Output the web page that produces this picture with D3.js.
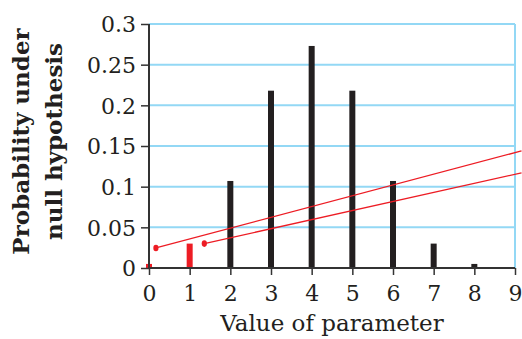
<!DOCTYPE html>
<html><head><meta charset="utf-8">
<script src="https://cdn.jsdelivr.net/npm/d3@7"></script>
<style>body{margin:0;background:#fff}svg{display:block}</style>
</head><body>
<svg id="c" width="522" height="339"></svg>
<script>
const categories = [0,1,2,3,4,5,6,7,8];
const probabilities = [0.005,0.03,0.107,0.218,0.273,0.218,0.107,0.03,0.005];
const barColors = ["red","red","black","black","black","black","black","black","black"];
const yTicks = [0,0.05,0.1,0.15,0.2,0.25,0.3];
const yTickLabels = ["0","0.05","0.1","0.15","0.2","0.25","0.3"];
const xTicks = [0,1,2,3,4,5,6,7,8,9];
const line1 = [[0.17,0.0246],[9.16,0.144]];
const line2 = [[1.36,0.030],[9.16,0.117]];

const svg = d3.select("#c");
const x = d3.scaleLinear().domain([0,9]).range([149,515]);
const y = d3.scaleLinear().domain([0,0.3]).range([268,24]);
const RED="#ed1c24", BLACK="#231f20", BLUE="#93d8f5", AXIS="#333";
const font="'DejaVu Serif', serif";

// gridlines
svg.append("g").selectAll("line").data(yTicks.filter(d=>d>0)).join("line")
  .attr("x1",x(0)).attr("x2",x(9)).attr("y1",d=>y(d)).attr("y2",d=>y(d))
  .attr("stroke",BLUE).attr("stroke-width",2);
svg.append("line").attr("x1",x(9)).attr("x2",x(9)).attr("y1",y(0.3)).attr("y2",y(0))
  .attr("stroke",BLUE).attr("stroke-width",2);

// bars
const bw=6;
svg.append("g").selectAll("rect").data(categories).join("rect")
  .attr("x",d=>x(d)-bw/2).attr("width",bw)
  .attr("y",(d,i)=>y(probabilities[i])).attr("height",(d,i)=>y(0)-y(probabilities[i]))
  .attr("fill",(d,i)=>barColors[i]==="red"?RED:BLACK);

// axes
const yAxis = d3.axisLeft(y).tickValues(yTicks).tickFormat((d,i)=>yTickLabels[i]).tickSize(8).tickPadding(5);
const gy = svg.append("g").attr("transform",`translate(${x(0)},0)`).call(yAxis);
const xAxis = d3.axisBottom(x).tickValues(xTicks).tickFormat(d3.format("d")).tickSize(7).tickPadding(10);
const gx = svg.append("g").attr("transform",`translate(0,${y(0)})`).call(xAxis);
[gx,gy].forEach(g=>{
  g.select(".domain").attr("stroke",AXIS).attr("stroke-width",2);
  g.selectAll(".tick line").attr("stroke",AXIS).attr("stroke-width",1.5);
  g.selectAll("text").attr("fill","#231f20").style("font-family",font).style("font-size","22px");
});
gx.select(".domain").attr("d",`M${x(0)},0H${x(9)}`);
gy.select(".domain").attr("d",`M0,${y(0.3)}V${y(0)}`);
gy.selectAll(".tick text").attr("dy","0.36em");

// red lines
const lg = d3.line().x(d=>x(d[0])).y(d=>y(d[1]));
[line1,line2].forEach(L=>{
  svg.append("path").attr("d",lg(L)).attr("stroke",RED).attr("stroke-width",1.3).attr("fill","none");
  svg.append("ellipse").attr("cx",x(L[0][0])).attr("cy",y(L[0][1])).attr("rx",2.6).attr("ry",3.3).attr("fill",RED);
});

// titles
svg.append("text").attr("x",332).attr("y",331).attr("text-anchor","middle")
  .style("font-family",font).style("font-size","23px").attr("fill","#231f20").text("Value of parameter");
const yt = svg.append("text").attr("transform","translate(0,141.5) rotate(-90)").attr("text-anchor","middle")
  .style("font-family",font).style("font-size","23px").style("font-weight","bold").attr("fill","#231f20");
yt.append("tspan").attr("x",0).attr("y",29).text("Probability under");
yt.append("tspan").attr("x",0).attr("y",62).text("null hypothesis");
</script>
</body></html>
